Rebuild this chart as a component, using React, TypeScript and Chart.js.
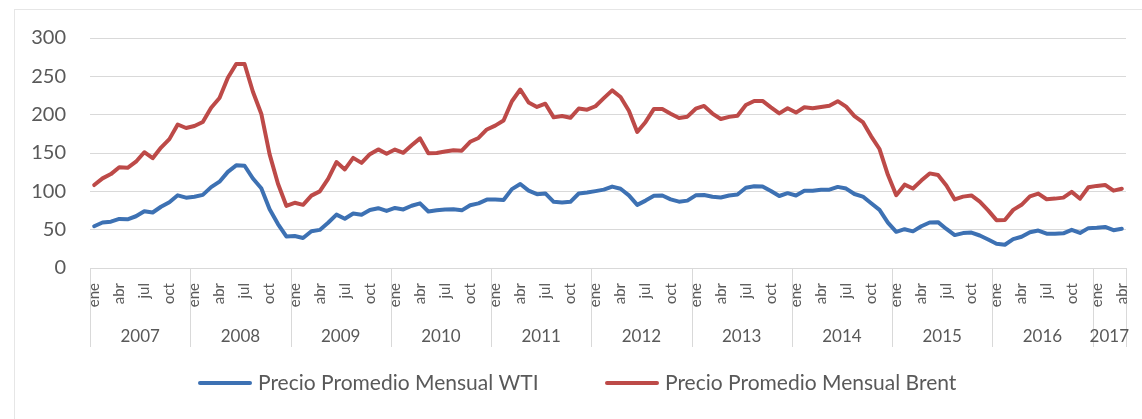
import { useEffect, useRef } from 'react';
import { Chart, registerables } from 'chart.js';

Chart.register(...registerables);

const monthNames = ['ene', 'feb', 'mar', 'abr', 'may', 'jun', 'jul', 'ago', 'sep', 'oct', 'nov', 'dic'];
const shownMonths = ['ene', 'abr', 'jul', 'oct'];
const years = ['2007', '2008', '2009', '2010', '2011', '2012', '2013', '2014', '2015', '2016', '2017'];
const monthsPerYear = [12, 12, 12, 12, 12, 12, 12, 12, 12, 12, 4];
const categories = years.flatMap((y, i) => monthNames.slice(0, monthsPerYear[i]).map((m) => `${m} ${y}`));

const wti = [
  54.5, 59.3, 60.4, 64.0, 63.5, 67.5, 74.1, 72.4, 79.9, 85.8, 94.8, 91.7,
  93.0, 95.4, 105.5, 112.6, 125.4, 133.9, 133.4, 116.7, 104.1, 76.6, 57.3, 41.1,
  41.7, 39.1, 47.9, 49.7, 59.0, 69.6, 64.2, 71.1, 69.4, 75.7, 78.0, 74.5,
  78.3, 76.4, 81.2, 84.3, 73.7, 75.3, 76.3, 76.6, 75.2, 81.9, 84.3, 89.2,
  89.2, 88.6, 102.9, 109.5, 100.9, 96.3, 97.3, 86.3, 85.5, 86.3, 97.2, 98.6,
  100.3, 102.2, 106.2, 103.3, 94.7, 82.3, 87.9, 94.1, 94.5, 89.5, 86.5, 87.9,
  94.8, 95.3, 92.9, 92.0, 94.5, 95.8, 104.7, 106.6, 106.3, 100.5, 93.9, 97.6,
  94.6, 100.8, 100.8, 102.1, 102.2, 105.8, 103.6, 96.5, 93.2, 84.4, 75.8, 59.3,
  47.2, 50.6, 47.8, 54.5, 59.3, 59.8, 50.9, 42.9, 45.5, 46.2, 42.4, 37.2,
  31.7, 30.3, 37.6, 40.8, 46.7, 48.8, 44.7, 44.7, 45.2, 49.8, 45.7, 52.0,
  52.5, 53.5, 49.3, 51.1,
];

const brent = [
  53.7, 57.6, 62.1, 67.5, 67.2, 71.1, 76.9, 70.8, 77.2, 82.3, 92.4, 90.9,
  92.2, 95.0, 103.6, 109.1, 122.8, 132.3, 132.7, 113.2, 97.2, 71.6, 52.5, 40.0,
  43.4, 43.3, 46.5, 50.2, 57.3, 68.6, 64.4, 72.5, 67.7, 72.8, 76.7, 74.5,
  76.2, 73.8, 78.8, 84.8, 76.0, 74.8, 75.6, 77.0, 77.8, 82.7, 85.3, 91.5,
  96.5, 103.7, 114.6, 123.3, 115.0, 113.8, 117.0, 110.2, 112.8, 109.6, 110.8, 107.9,
  110.7, 119.3, 125.5, 119.8, 110.3, 95.2, 102.6, 113.4, 112.9, 111.7, 109.1, 109.5,
  113.0, 116.1, 108.5, 102.3, 102.6, 102.9, 107.9, 111.3, 111.6, 109.1, 107.8, 110.8,
  108.1, 108.9, 107.5, 107.8, 109.5, 111.8, 106.8, 101.6, 97.1, 87.4, 79.4, 62.3,
  47.8, 58.1, 55.9, 59.5, 64.1, 61.5, 56.6, 46.5, 47.6, 48.4, 44.3, 38.0,
  30.7, 32.2, 38.2, 41.6, 46.7, 48.3, 45.0, 45.8, 46.6, 49.5, 44.7, 53.3,
  54.6, 54.9, 51.6, 52.3,
];

const seriesLabels = ['Precio Promedio Mensual WTI', 'Precio Promedio Mensual Brent'];
const seriesColors = ['#3d71b3', '#bd4a48'];
const yMin = 0;
const yMax = 300;
const yStep = 50;

const TEXT = '#595959';
const GRID = '#d9d9d9';
const FONT = 'Lato, "Open Sans", sans-serif';

const multiLevelAxis = {
  id: 'multiLevelAxis',
  afterDraw(chart: any) {
    const x = chart.scales.x;
    const ctx = chart.ctx;
    const top = chart.chartArea.bottom;
    const bounds = [0];
    let acc = 0;
    monthsPerYear.forEach((n) => {
      acc += n;
      bounds.push(acc);
    });
    ctx.save();
    ctx.strokeStyle = GRID;
    ctx.lineWidth = 1;
    bounds.forEach((b) => {
      const px = Math.round(x.getPixelForValue(b - 0.5)) + 0.5;
      ctx.beginPath();
      ctx.moveTo(px, top);
      ctx.lineTo(px, top + 79);
      ctx.stroke();
    });
    ctx.fillStyle = TEXT;
    ctx.font = `15px ${FONT}`;
    categories.forEach((c, i) => {
      const m = c.split(' ')[0];
      if (!shownMonths.includes(m)) return;
      const px = x.getPixelForValue(i);
      ctx.save();
      ctx.translate(px, top + 15);
      ctx.rotate(-Math.PI / 2);
      ctx.textAlign = 'right';
      ctx.textBaseline = 'middle';
      ctx.fillText(m, 0, 0);
      ctx.restore();
    });
    ctx.font = `17px ${FONT}`;
    ctx.textAlign = 'center';
    ctx.textBaseline = 'middle';
    years.forEach((y, k) => {
      const a = x.getPixelForValue(bounds[k] - 0.5);
      const b = x.getPixelForValue(bounds[k + 1] - 0.5);
      ctx.fillText(y, (a + b) / 2, top + 69);
    });

    // legend
    const legendY = 383;
    const starts = [198, 605];
    ctx.font = `21px ${FONT}`;
    ctx.textAlign = 'left';
    ctx.textBaseline = 'middle';
    chart.data.datasets.forEach((ds: any, i: number) => {
      const sx = starts[i];
      ctx.strokeStyle = ds.borderColor;
      ctx.lineWidth = 4;
      ctx.lineCap = 'round';
      ctx.beginPath();
      ctx.moveTo(sx + 2, legendY);
      ctx.lineTo(sx + 52, legendY);
      ctx.stroke();
      ctx.fillStyle = TEXT;
      ctx.fillText(ds.label, sx + 60, legendY);
    });
    ctx.restore();
  },
};

export default function App() {
  const ref = useRef<HTMLCanvasElement | null>(null);

  useEffect(() => {
    if (!ref.current) return;
    const chart = new Chart(ref.current, {
      type: 'line',
      data: {
        labels: categories,
        datasets: seriesLabels.map((label, i) => ({
          label,
          data: i === 0 ? wti : brent,
          borderColor: seriesColors[i],
          backgroundColor: seriesColors[i],
          borderWidth: 4,
          pointRadius: 0,
          tension: 0,
          fill: false,
          borderCapStyle: 'round' as const,
          borderJoinStyle: 'round' as const,
        })),
      },
      options: {
        animation: false,
        responsive: false,
        maintainAspectRatio: false,
        layout: { padding: { top: 38, right: 16, bottom: 0, left: 0 } },
        plugins: {
          legend: { display: false },
          tooltip: { enabled: false },
        },
        scales: {
          x: {
            type: 'category',
            offset: true,
            grid: { display: false },
            border: { display: true, color: GRID },
            ticks: { display: false },
            afterFit: (s: any) => {
              s.height = 151;
            },
          },
          y: {
            stacked: true,
            min: yMin,
            max: yMax,
            ticks: { stepSize: yStep, color: TEXT, font: { family: FONT, size: 20 }, padding: 24 },
            grid: { color: GRID, drawTicks: false },
            border: { display: false },
            afterFit: (s: any) => {
              s.width = 90;
            },
          },
        },
      },
      plugins: [multiLevelAxis],
    });
    return () => chart.destroy();
  }, []);

  return (
    <div style={{ position: 'absolute', left: 0, top: 0, width: 1142, height: 419, background: '#fff', overflow: 'hidden' }}>
      <div style={{ position: 'absolute', left: 14, top: 9, right: 0, height: 0, borderTop: '1px solid #e6e6e6' }} />
      <div style={{ position: 'absolute', left: 14, top: 9, bottom: 0, width: 0, borderLeft: '1px solid #e6e6e6' }} />
      <canvas ref={ref} width={1142} height={419} style={{ position: 'absolute', left: 0, top: 0 }} />
    </div>
  );
}
